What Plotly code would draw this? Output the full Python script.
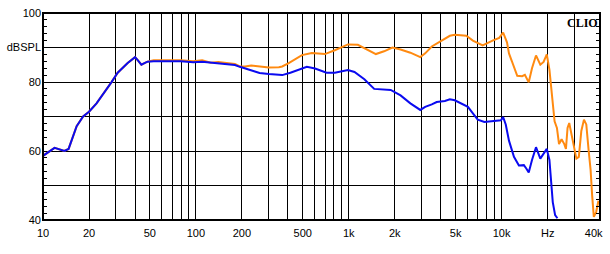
import plotly.graph_objects as go
import math

# ---- data ----
blue_freq = [10, 11.9, 13.8, 14.7, 16.6, 18.3, 20, 22.4, 28, 30.8, 35.8, 40, 41.5, 44, 48.2, 53,
             80, 96, 110, 140, 180, 194, 225, 261, 300, 367, 415, 494, 532, 602, 716, 810, 988,
             1090, 1265, 1467, 1880, 2182, 2530, 2937, 3162, 3493, 3760, 4254, 4584, 4939, 5455,
             6016, 6486, 6982, 7710, 8947, 9885, 10230, 10640, 11170, 12040, 12970, 13970, 14460,
             15040, 15800, 16780, 17910, 18810, 19740, 20540, 21070, 21600, 22380, 23170]
blue_spl = [58.6, 60.9, 60.0, 60.6, 67.2, 70.0, 71.4, 73.8, 79.9, 82.7, 85.5, 87.2, 86.4, 85.0, 85.9, 86.0,
            86.0, 85.7, 85.9, 85.4, 84.9, 84.4, 83.6, 82.6, 82.3, 82.0, 82.7, 83.9, 84.4, 83.9, 82.7, 82.7, 83.5,
            82.9, 80.8, 78.0, 77.7, 76.1, 73.8, 71.9, 72.8, 73.5, 74.2, 74.5, 75.0, 74.7, 73.8,
            72.8, 70.9, 69.1, 68.4, 68.6, 68.9, 69.8, 67.7, 63.0, 58.3, 55.8, 55.9, 55.0,
            53.8, 57.4, 61.1, 57.8, 59.2, 60.6, 57.4, 50.8, 45.2, 41.4, 40.5]

orange_freq = [10, 11.9, 13.8, 14.7, 16.6, 18.3, 20, 22.4, 28, 30.8, 35.8, 40, 41.5, 44, 48.2, 53,
               80, 96, 110, 125, 140, 180, 194, 210, 230, 261, 300, 349, 367, 405, 494, 573, 698, 810,
               988, 1147, 1330, 1505, 1702, 1928, 2182, 2530, 2937, 3162, 3493, 3953, 4584, 4939,
               5873, 6486, 7515, 8724, 9636, 10230, 10840, 11170, 11750, 12650, 13620, 14190, 15040,
               15800, 16780, 17910, 18810, 19740, 20540, 21070, 21600, 22200, 23000, 23740, 24670,
               25700, 26340, 26990, 27680, 28640, 29800, 30830, 31980, 33210, 34560, 35790, 37080,
               38200, 39110, 40090, 41500, 43000]
orange_spl = [58.6, 60.9, 60.0, 60.6, 67.2, 70.0, 71.4, 73.8, 79.9, 82.7, 85.5, 87.2, 86.4, 85.0, 85.9, 86.3,
              86.3, 86.0, 86.3, 85.6, 85.8, 85.2, 84.5, 84.5, 84.8, 84.5, 84.2, 84.3, 84.5, 85.5, 87.8, 88.4, 88.1, 89.2,
              90.9, 90.8, 89.4, 88.1, 88.9, 90.0, 89.4, 88.5, 87.2, 88.3, 90.3, 91.6, 93.4, 93.7,
              93.4, 92.0, 90.6, 92.0, 92.8, 94.3, 91.5, 88.3, 85.7, 81.8, 81.7, 82.1, 79.9,
              84.0, 87.7, 85.0, 85.8, 88.0, 83.6, 78.0, 74.2, 68.6, 66.7, 62.0, 63.4,
              62.0, 60.6, 66.7, 68.1, 64.8, 60.2, 57.8, 58.3, 65.8, 69.1, 67.7, 60.2,
              54.5, 47.0, 40.9, 42.3, 45.6]

x_grid = [20, 30, 40, 50, 60, 70, 80, 90, 100, 200, 300, 400, 500, 600, 700, 800, 900,
          1000, 2000, 3000, 4000, 5000, 6000, 7000, 8000, 9000, 10000, 20000, 30000]
x_label_vals = [10, 20, 50, 100, 200, 500, 1000, 2000, 5000, 10000, 20000, 40000]
x_label_text = ["10", "20", "50", "100", "200", "500", "1k", "2k", "5k", "10k", "Hz", "40k"]
y_tick_vals = [40, 50, 60, 70, 80, 90, 100]
y_tick_text = ["40", "", "60", "", "80", "dBSPL", "100"]

x_min, x_max = 10, 44000
y_min, y_max = 40, 100

fig = go.Figure()
fig.add_trace(go.Scatter(x=orange_freq, y=orange_spl, mode="lines",
                         line=dict(color="#FF8A10", width=2), showlegend=False))
fig.add_trace(go.Scatter(x=blue_freq, y=blue_spl, mode="lines",
                         line=dict(color="#0A0AF0", width=2), showlegend=False))

font = dict(family="Liberation Sans, Arial, sans-serif", size=11, color="black")

fig.update_layout(
    width=610, height=254,
    margin=dict(l=37, r=8, t=7, b=34),
    paper_bgcolor="white", plot_bgcolor="white",
    font=font,
    xaxis=dict(type="log", range=[math.log10(x_min), math.log10(x_max)],
               tickvals=x_grid, ticktext=[""] * len(x_grid),
               showgrid=True, gridcolor="black", gridwidth=1,
               showline=False, zeroline=False, ticks=""),
    xaxis2=dict(type="log", range=[math.log10(x_min), math.log10(x_max)],
                overlaying="x", anchor="y", side="bottom",
                tickvals=x_label_vals, ticktext=x_label_text,
                showgrid=False, showline=False, zeroline=False, ticks="",
                ticklabelstandoff=5, tickfont=font),
    yaxis=dict(range=[y_min, y_max], tickvals=y_tick_vals, ticktext=y_tick_text,
               showgrid=True, gridcolor="black", gridwidth=1,
               showline=False, zeroline=False, ticks="inside", ticklen=4,
               tickcolor="black", mirror="allticks",
               minor=dict(dtick=2, ticks="inside", ticklen=4, tickcolor="black",
                          showgrid=False),
               ticklabelstandoff=1, tickfont=font),
)
# invisible trace to activate xaxis2
fig.add_trace(go.Scatter(x=[x_min], y=[y_min], xaxis="x2", mode="markers",
                         marker=dict(opacity=0), showlegend=False, hoverinfo="skip"))

fig.add_shape(type="rect", xref="paper", yref="paper", x0=0, y0=0, x1=1, y1=1,
              line=dict(color="black", width=2), layer="above")
fig.add_annotation(text="<b>CLIO</b>", xref="paper", yref="paper", x=1, y=1,
                   xanchor="right", yanchor="top", showarrow=False, yshift=-1,
                   font=dict(family="Liberation Serif, Times New Roman, serif", size=12, color="black"))

fig.write_html("out.html")
